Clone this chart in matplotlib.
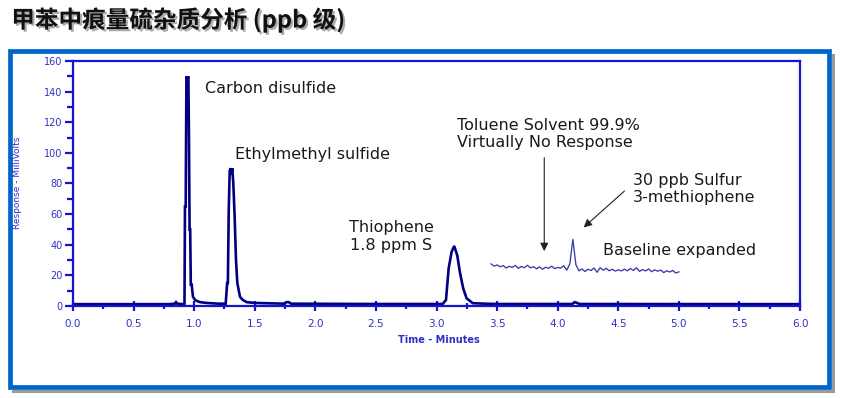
import numpy as np
import matplotlib
matplotlib.use('Agg')
from matplotlib import pyplot as plt
from matplotlib.patches import Rectangle
from matplotlib.lines import Line2D
from matplotlib.ticker import MultipleLocator
import matplotlib.patheffects as pe

# chromatogram trace (time in minutes, response in mV)
trace_t = [0.0, 0.80, 0.84, 0.85, 0.86, 0.90, 0.920, 0.924, 0.930, 0.936,
           0.944, 0.952, 0.957, 0.962, 0.967, 0.972, 0.979, 0.990, 1.007,
           1.03, 1.05, 1.10, 1.20, 1.26, 1.272, 1.278, 1.285, 1.293, 1.300,
           1.307, 1.314, 1.323, 1.334, 1.345, 1.356, 1.378, 1.40, 1.433,
           1.50, 1.74, 1.76, 1.78, 1.80, 2.50, 3.05, 3.078, 3.10, 3.125,
           3.146, 3.171, 3.193, 3.22, 3.248, 3.30, 3.40, 3.50, 4.12, 4.14,
           4.16, 4.18, 6.0]
trace_mv = [1.2, 1.2, 1.5, 2.5, 1.5, 1.2, 1.5, 65, 65, 150,
            148, 150, 110, 50, 50, 14, 14, 6, 4,
            3, 2.5, 2, 1.5, 1.5, 15, 15, 62, 88, 90,
            86, 90, 80, 58, 30, 15, 6, 4, 2.5,
            2, 1.5, 2.5, 2.5, 1.5, 1.3, 1.3, 3.9, 24.6, 35.5,
            39.2, 33, 22, 11.5, 5, 1.8, 1.5, 1.3, 1.3, 2.5,
            2, 1.3, 1.2]

# expanded baseline segment, 3.45 - 5.00 min
base_start, base_end = 3.45, 5.0
base_mv = [27.5, 26.0, 26.8, 25.6, 26.4, 24.8, 25.9, 25.2, 26.5, 24.6,
           25.8, 25.0, 26.6, 24.9, 25.7, 24.3, 25.5, 24.0, 25.3, 24.6,
           26.0, 24.4, 25.2, 24.7, 26.3, 23.4, 27.5, 43.5, 27.0, 23.0,
           24.2, 22.5, 24.0, 23.2, 24.8, 22.0, 25.0, 23.4, 24.6, 23.0,
           24.0, 22.8, 23.6, 22.9, 24.1, 23.0, 24.5, 23.2, 25.0, 22.6,
           23.8, 22.9, 24.2, 22.4, 23.6, 22.7, 23.5, 21.8, 23.0, 22.2,
           23.2, 21.5, 22.3]
base_t = np.linspace(base_start, base_end, len(base_mv))

title = '甲苯中痕量硫杂质分析 (ppb 级)'

fig = plt.figure(figsize=(8.64, 3.98), dpi=100)
fig.patch.set_facecolor('white')

# slide frame: grey shadow on the right and bottom, blue border on top
W, H = 864.0, 398.0
fig.lines.append(Line2D([832.5 / W, 832.5 / W], [1 - 55 / H, 1 - 391 / H],
                        transform=fig.transFigure, color='#9a9a9a', lw=2.2, zorder=0))
fig.lines.append(Line2D([13 / W, 832.5 / W], [1 - 390.8 / H, 1 - 390.8 / H],
                        transform=fig.transFigure, color='#9a9a9a', lw=2.2, zorder=0))
fig.patches.append(Rectangle((9.5 / W, 1 - 387 / H), 819 / W, 336 / H,
                             transform=fig.transFigure, fill=False,
                             ec='#0066cc', lw=3.4, zorder=1))

fig.text(0.013, 0.95, title, fontsize=17, fontweight='bold', va='center',
         family=['Noto Sans CJK SC', 'DejaVu Sans'], color='#111111',
         path_effects=[pe.withSimplePatchShadow(offset=(1.5, -1.5),
                                                shadow_rgbFace='#888888', alpha=0.7)])

ax = fig.add_axes([0.0845, 0.2312, 0.8415, 0.6155])
ax.plot(trace_t, trace_mv, color='#000080', lw=1.9, solid_joinstyle='miter')
ax.plot(base_t, base_mv, color='#3a3aa8', lw=0.95)

ax.set_xlim(0, 6)
ax.set_ylim(0, 160)
ax.xaxis.set_major_locator(MultipleLocator(0.5))
ax.xaxis.set_minor_locator(MultipleLocator(0.25))
ax.yaxis.set_major_locator(MultipleLocator(20))
ax.yaxis.set_minor_locator(MultipleLocator(10))
ax.xaxis.set_major_formatter(matplotlib.ticker.FormatStrFormatter('%.1f'))

spine_c = '#1414d2'
lab_c = '#3030c8'
for s in ax.spines.values():
    s.set_color(spine_c)
    s.set_linewidth(1.6)
ax.tick_params(axis='y', which='major', direction='out', length=6, width=1.6,
               color=spine_c, labelcolor=lab_c, labelsize=7, pad=1.5)
ax.tick_params(axis='y', which='minor', direction='out', length=4, width=1.6, color=spine_c)
ax.tick_params(axis='x', which='major', direction='inout', length=7, width=1.6,
               color=spine_c, labelcolor=lab_c, labelsize=7.5, pad=6)
ax.tick_params(axis='x', which='minor', direction='inout', length=4, width=1.6, color=spine_c)

ax.set_xlabel('Time - Minutes', fontsize=7, fontweight='bold', color=lab_c)
ax.xaxis.set_label_coords(0.503, -0.12)
fig.text(18 / W, 1 - 183 / H, 'Response - MilliVolts', rotation=90,
         fontsize=6.5, color=lab_c, ha='center', va='center')

txt = dict(fontsize=11.5, color='#1a1a1a', va='center', linespacing=1.2)
ax.text(1.089, 141.8, 'Carbon disulfide', **txt)
ax.text(1.337, 98.7, 'Ethylmethyl sulfide', **txt)
ax.text(2.628, 45.5, 'Thiophene\n1.8 ppm S', ha='center', multialignment='center', **txt)
ax.text(3.171, 112.2, 'Toluene Solvent 99.9%\nVirtually No Response', **txt)
ax.text(4.618, 76.5, '30 ppb Sulfur\n3-methiophene', **txt)
ax.text(4.37, 36.1, 'Baseline expanded', **txt)

arrow = dict(arrowstyle='-|>', color='#222222', lw=0.8, mutation_scale=12)
ax.annotate('', xy=(3.889, 34), xytext=(3.889, 98.7), arrowprops=arrow)
ax.annotate('', xy=(4.197, 50.1), xytext=(4.568, 76.3), arrowprops=arrow)

plt.savefig('out.png', dpi=100)
